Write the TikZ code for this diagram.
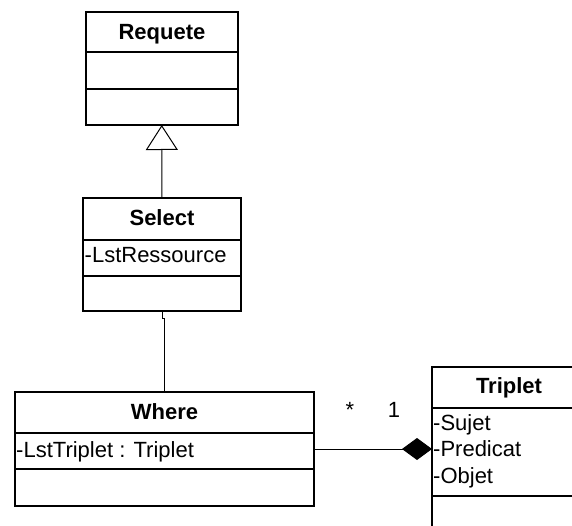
\documentclass[tikz,border=0pt]{standalone}
\usepackage{fontspec}
\setmainfont{Liberation Sans}
\usetikzlibrary{arrows.meta}

\tikzset{
    umlbox/.style = {draw, line width = 2pt, anchor = north west, inner sep = 0pt, outer sep = 0pt},
    divider/.style = {line width = 2pt},
    classname/.style = {font = \fontsize{22}{26}\selectfont\bfseries, anchor = base, inner sep = 0pt},
    attr/.style = {anchor = base west, inner sep = 0pt},
    assoc/.style = {line width = 1pt},
    mult/.style = {anchor = base, inner sep = 0pt}
}

\begin{document}
\begin{tikzpicture}[x = 1pt, y = -1pt, font = \fontsize{22}{26}\selectfont]
                \useasboundingbox (0, 0) rectangle (572, 526);
                \clip (0, 0) rectangle (572, 526);

                \node[umlbox, minimum width = 151.5pt, minimum height = 113pt] (requete) at (86, 12) {};
                \draw[divider] ([yshift = -40pt] requete.north west) -- ([yshift = -40pt] requete.north east);
                \draw[divider] ([yshift = -77pt] requete.north west) -- ([yshift = -77pt] requete.north east);
                \node[classname] (requeteName) at (162, 39.5) {Requete};

                \node[umlbox, minimum width = 158pt, minimum height = 113pt] (select) at (83, 198) {};
                \draw[divider] ([yshift = -42pt] select.north west) -- ([yshift = -42pt] select.north east);
                \draw[divider] ([yshift = -78pt] select.north west) -- ([yshift = -78pt] select.north east);
                \node[classname] (selectName) at (162, 226) {Select};
                \node[attr] (selectAttr) at (84.5, 263) {-LstRessource};

                \node[umlbox, minimum width = 299pt, minimum height = 114pt] (where) at (15, 392) {};
                \draw[divider] ([yshift = -41pt] where.north west) -- ([yshift = -41pt] where.north east);
                \draw[divider] ([yshift = -77pt] where.north west) -- ([yshift = -77pt] where.north east);
                \node[classname] (whereName) at (164.5, 419.5) {Where};
                \node[attr] (whereAttr) at (16, 457) {-LstTriplet : Triplet};

                \node[umlbox, minimum width = 154pt, minimum height = 173pt] (triplet) at (432, 367) {};
                \draw[divider] ([yshift = -41pt] triplet.north west) -- ([yshift = -41pt] triplet.north east);
                \draw[divider] ([yshift = -129pt] triplet.north west) -- ([yshift = -129pt] triplet.north east);
                \node[classname] (tripletName) at (509, 393.5) {Triplet};
                \foreach \attr/\y in {Sujet/430, Predicat/456.5, Objet/483} {
                    \node[attr] (triplet\attr) at (433, \y) {-\attr};
                }

                \draw[assoc, -{Triangle[open, length = 25pt, width = 32pt]}] (select.north) -- (requete.south);
                \draw[assoc] (select.south) -- ++(0, 7) -| (where.north);
                \draw[assoc, -{Diamond[length = 30pt, width = 22pt]}] (where.east) -- (where.east -| triplet.west);

                \node[mult] (multMany) at (350, 417) {*};
                \node[mult] (multOne) at (394, 417) {1};
            \end{tikzpicture}
\end{document}
